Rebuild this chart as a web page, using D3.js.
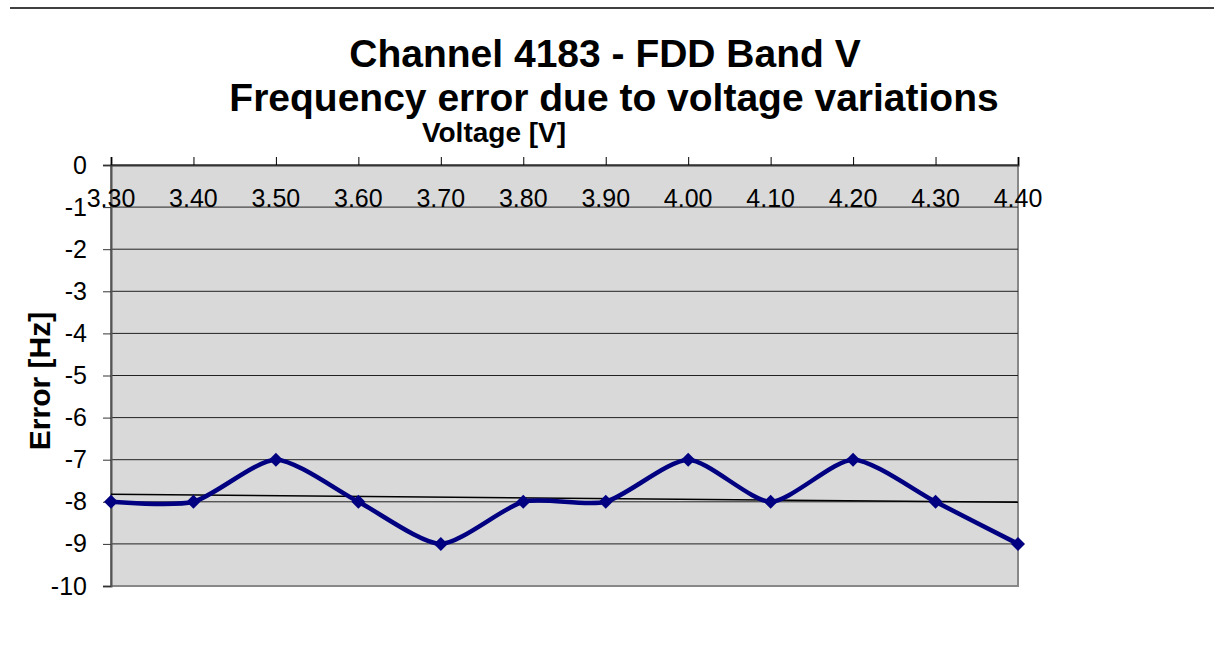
<!DOCTYPE html>
<html>
<head>
<meta charset="utf-8">
<script src="https://cdn.jsdelivr.net/npm/d3@7"></script>
<style>
  body { margin: 0; background: #fff; }
  text { font-family: Arial, "Liberation Sans", sans-serif; }
</style>
</head>
<body>
<script>
// chart data
const voltages = ["3.30", "3.40", "3.50", "3.60", "3.70", "3.80", "3.90", "4.00", "4.10", "4.20", "4.30", "4.40"];
const errors = [-8, -8, -7, -8, -9, -8, -8, -7, -8, -7, -8, -9];
const yTicks = [0, -1, -2, -3, -4, -5, -6, -7, -8, -9, -10];

const width = 1216, height = 660;
const plot = { left: 111, right: 1018, top: 165, bottom: 586 };

const svg = d3.select("body").append("svg")
  .attr("width", width)
  .attr("height", height);

// thin rule at top of page
svg.append("line")
  .attr("x1", 10).attr("x2", 1214)
  .attr("y1", 8).attr("y2", 8)
  .attr("stroke", "#000").attr("stroke-width", 1.5);

// scales
const x = d3.scalePoint().domain(voltages).range([plot.left, plot.right]);
const y = d3.scaleLinear().domain([-10, 0]).range([plot.bottom, plot.top]);

// plot background
svg.append("rect")
  .attr("x", plot.left).attr("y", plot.top)
  .attr("width", plot.right - plot.left)
  .attr("height", plot.bottom - plot.top)
  .attr("fill", "#d9d9d9")
  .attr("stroke", "#888").attr("stroke-width", 2);

// gridlines
svg.append("g")
  .selectAll("line")
  .data(yTicks.filter(d => d !== 0 && d !== -10))
  .enter().append("line")
  .attr("x1", plot.left).attr("x2", plot.right)
  .attr("y1", d => y(d)).attr("y2", d => y(d))
  .attr("stroke", "#222").attr("stroke-width", 1);

// y axis
const yAxis = svg.append("g")
  .attr("transform", `translate(${plot.left},0)`)
  .call(d3.axisLeft(y).tickValues(yTicks).tickSize(8).tickPadding(16).tickFormat(d3.format("d")));
yAxis.select(".domain").attr("stroke", "#555").attr("stroke-width", 2);
yAxis.selectAll(".tick line").attr("stroke", "#333");
yAxis.selectAll("text").attr("font-size", 25).attr("fill", "#000")
  .text(d => d === 0 ? "0" : "-" + Math.abs(d));

// x axis along the zero line, labels drawn below it
const xAxis = svg.append("g")
  .attr("transform", `translate(0,${y(0)})`)
  .call(d3.axisTop(x).tickSize(8).tickFormat(""));
xAxis.select(".domain").attr("stroke", "#333").attr("stroke-width", 2);
xAxis.selectAll(".tick line").attr("stroke", "#000");

svg.append("g")
  .selectAll("text")
  .data(voltages)
  .enter().append("text")
  .attr("x", d => x(d))
  .attr("y", 207)
  .attr("text-anchor", "middle")
  .attr("font-size", 25)
  .text(d => d);

// linear trend line (least squares on category index)
const n = errors.length;
const xm = (n - 1) / 2;
const ym = d3.mean(errors);
const slope = d3.sum(errors, (v, i) => (i - xm) * (v - ym)) / d3.sum(errors, (v, i) => (i - xm) * (i - xm));
const icpt = ym - slope * xm;
svg.append("line")
  .attr("x1", x(voltages[0])).attr("y1", y(icpt))
  .attr("x2", x(voltages[n - 1])).attr("y2", y(icpt + slope * (n - 1)))
  .attr("stroke", "#000").attr("stroke-width", 1.5);

// smoothed series line
const pts = voltages.map((v, i) => ({ v: v, e: errors[i] }));
svg.append("path")
  .datum(pts)
  .attr("d", d3.line().x(d => x(d.v)).y(d => y(d.e)).curve(d3.curveCardinal.tension(0.3)))
  .attr("fill", "none")
  .attr("stroke", "#000080")
  .attr("stroke-width", 4.5);

// diamond markers
svg.append("g")
  .selectAll("path")
  .data(pts)
  .enter().append("path")
  .attr("transform", d => `translate(${x(d.v)},${y(d.e)})`)
  .attr("d", "M0,-7L7,0L0,7L-7,0Z")
  .attr("fill", "#000080");

// titles
svg.append("text")
  .attr("x", 605).attr("y", 67)
  .attr("text-anchor", "middle")
  .attr("font-size", 39).attr("font-weight", "bold")
  .text("Channel 4183 - FDD Band V");
svg.append("text")
  .attr("x", 614).attr("y", 111)
  .attr("text-anchor", "middle")
  .attr("font-size", 39).attr("font-weight", "bold")
  .text("Frequency error due to voltage variations");
svg.append("text")
  .attr("x", 494).attr("y", 142)
  .attr("text-anchor", "middle")
  .attr("font-size", 28).attr("font-weight", "bold")
  .text("Voltage [V]");
svg.append("text")
  .attr("transform", "translate(50,381) rotate(-90)")
  .attr("text-anchor", "middle")
  .attr("font-size", 30).attr("font-weight", "bold")
  .text("Error [Hz]");
</script>
</body>
</html>
